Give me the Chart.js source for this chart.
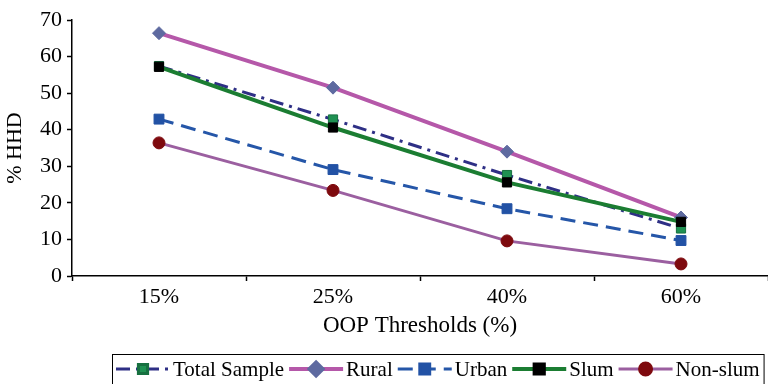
<!DOCTYPE html>
<html>
<head>
<meta charset="utf-8">
<script src="https://cdn.jsdelivr.net/npm/chart.js@4"></script>
<style>
  html, body { margin: 0; padding: 0; background: #fff; overflow: hidden; }
  #wrap { width: 776px; height: 384px; }
</style>
</head>
<body>
<div id="wrap"><canvas id="chart"></canvas></div>
<script>
// data
const thresholds = ['15%', '25%', '40%', '60%'];
const totalSample = [57.4, 42.8, 27.6, 13.0];
const rural = [66.4, 51.5, 34.0, 16.0];
const urban = [42.9, 29.1, 18.4, 9.7];
const slum = [57.2, 40.6, 25.6, 14.8];
const nonSlum = [36.4, 23.4, 9.6, 3.3];
const yTicks = [0, 10, 20, 30, 40, 50, 60, 70];

const serif = '"Liberation Serif", "Times New Roman", serif';

// boxed legend with line + marker samples, Excel style
const boxedLegend = {
  id: 'boxedLegend',
  afterDraw(chart) {
    const ctx = chart.ctx;
    const left = 112, top = 354, yMid = 369;
    const sample = 54, gapIn = 3, gapOut = 5, pad = 4;
    ctx.save();
    ctx.font = '21px ' + serif;
    ctx.textBaseline = 'middle';
    let x = left + pad;
    chart.data.datasets.forEach(ds => {
      ctx.save();
      ctx.strokeStyle = ds.borderColor;
      ctx.lineWidth = ds.borderWidth;
      ctx.setLineDash(ds.borderDash || []);
      ctx.beginPath();
      ctx.moveTo(x, yMid);
      ctx.lineTo(x + sample, yMid);
      ctx.stroke();
      ctx.setLineDash([]);
      ctx.fillStyle = ds.pointBackgroundColor;
      ctx.strokeStyle = ds.pointBorderColor;
      Chart.helpers.drawPoint(ctx, {
        pointStyle: ds.pointStyle, rotation: 0,
        radius: ds.pointRadius, borderWidth: ds.pointBorderWidth
      }, x + sample / 2, yMid);
      ctx.restore();
      x += sample + gapIn;
      ctx.fillStyle = '#000';
      ctx.fillText(ds.label, x, yMid + 1);
      x += ctx.measureText(ds.label).width + gapOut;
    });
    ctx.strokeStyle = '#000';
    ctx.lineWidth = 1;
    ctx.strokeRect(left + 0.5, top + 0.5, x - left + pad - gapOut, 40);
    ctx.restore();
  }
};

function series(label, data, opts) {
  return Object.assign({
    label: label,
    data: data,
    fill: false,
    tension: 0,
    pointBorderWidth: 1
  }, opts);
}

new Chart(document.getElementById('chart'), {
  type: 'line',
  data: {
    labels: thresholds,
    datasets: [
      series('Total Sample', totalSample, {
        borderColor: '#2E2F85', borderWidth: 3, borderDash: [14, 6, 3, 6],
        pointStyle: 'rect', pointRadius: 6.5,
        pointBackgroundColor: '#1F9152', pointBorderColor: '#177040', order: 5
      }),
      series('Rural', rural, {
        borderColor: '#B558A9', borderWidth: 4,
        pointStyle: 'rectRot', pointRadius: 6.5,
        pointBackgroundColor: '#5E6AA0', pointBorderColor: '#5E6AA0', order: 4
      }),
      series('Urban', urban, {
        borderColor: '#2556A8', borderWidth: 3, borderDash: [15, 8],
        pointStyle: 'rect', pointRadius: 7,
        pointBackgroundColor: '#2252A5', pointBorderColor: '#2252A5', order: 3
      }),
      series('Slum', slum, {
        borderColor: '#1B7D32', borderWidth: 4,
        pointStyle: 'rect', pointRadius: 6.5,
        pointBackgroundColor: '#000000', pointBorderColor: '#000000', order: 2
      }),
      series('Non-slum', nonSlum, {
        borderColor: '#9B5FA0', borderWidth: 3,
        pointStyle: 'circle', pointRadius: 6,
        pointBackgroundColor: '#7E0A0E', pointBorderColor: '#7E0A0E', order: 1
      })
    ]
  },
  options: {
    responsive: true,
    maintainAspectRatio: false,
    animation: false,
    layout: { padding: { top: 20, left: 0, right: 0, bottom: 0 } },
    plugins: {
      legend: { display: false },
      tooltip: { enabled: false }
    },
    scales: {
      x: {
        offset: true,
        grid: { offset: true, drawOnChartArea: false, tickLength: 5, tickColor: '#000', tickWidth: 1.5 },
        border: { color: '#000', width: 1.5 },
        ticks: { color: '#000', padding: 3, font: { family: serif, size: 22 } },
        title: {
          display: true, text: 'OOP Thresholds (%)', color: '#000',
          font: { family: serif, size: 23 }, padding: { top: 0, bottom: 44 }
        },
        afterFit(scale) { scale.height = 108; }
      },
      y: {
        min: 0, max: 70,
        afterBuildTicks(scale) { scale.ticks = yTicks.map(v => ({ value: v })); },
        grid: { drawOnChartArea: false, tickLength: 5, tickColor: '#000', tickWidth: 1.5 },
        border: { color: '#000', width: 1.5 },
        ticks: { color: '#000', padding: 5, font: { family: serif, size: 22 } },
        title: {
          display: true, text: '% HHD', color: '#000',
          font: { family: serif, size: 22 }, padding: { top: 2, bottom: 0 }
        },
        afterFit(scale) { scale.width = 72; }
      }
    }
  },
  plugins: [boxedLegend]
});
</script>
</body>
</html>
